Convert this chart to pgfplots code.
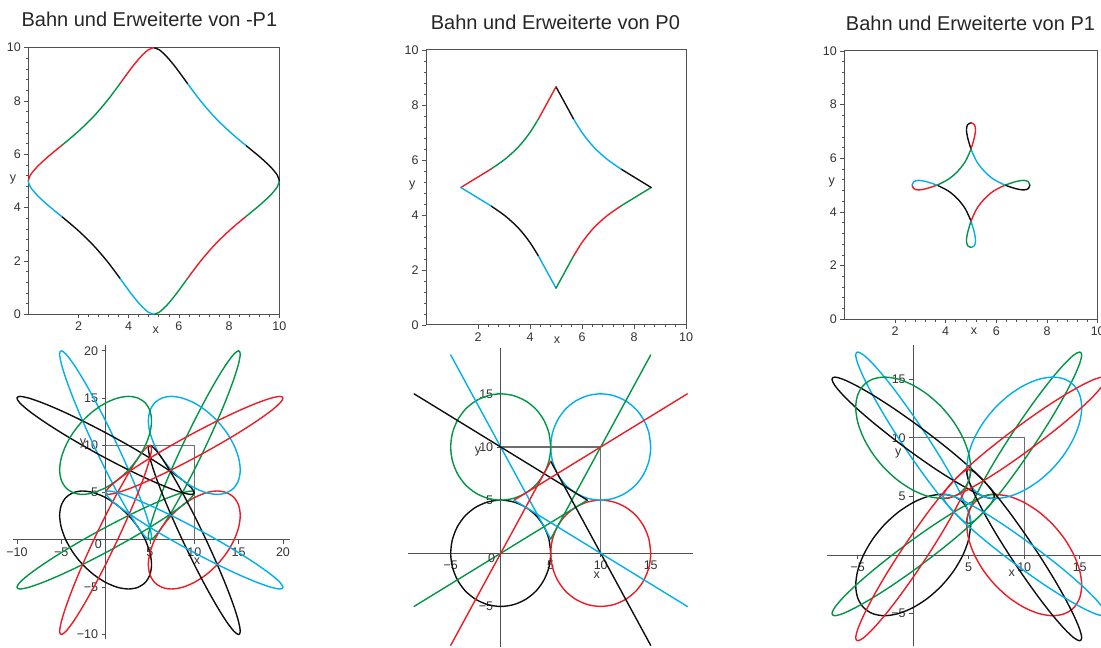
\documentclass[border=0pt]{standalone}
\usepackage{pgfplots}
\pgfplotsset{compat=1.18}
\usepackage{fontspec}
\setmainfont{Liberation Sans}
\definecolor{mred}{RGB}{237,28,36}
\definecolor{mgreen}{RGB}{0,150,70}
\definecolor{mblue}{RGB}{0,175,235}
\definecolor{mblack}{RGB}{15,15,15}
\definecolor{axgray}{RGB}{80,80,80}
\definecolor{sqgray}{RGB}{110,110,110}
\definecolor{lblgray}{RGB}{50,50,50}
\pgfplotsset{
  cK/.style={mblack,line width=1.4pt,smooth,line join=round,line cap=round},
  cR/.style={mred,line width=1.4pt,smooth,line join=round,line cap=round},
  cG/.style={mgreen,line width=1.4pt,smooth,line join=round,line cap=round},
  cB/.style={mblue,line width=1.4pt,smooth,line join=round,line cap=round},
  sq/.style={sqgray,line width=1.3pt},
  topax/.style={anchor=south west, xmin=0,xmax=10,ymin=0,ymax=10, clip=false,
    axis line style={axgray,line width=1pt},
    every tick/.style={axgray,line width=0.7pt},
    tick align=outside, xtick pos=bottom, ytick pos=left,
    xtick={2,4,6,8,10}, xticklabels={2,4,6,8,10},
    ytick={0,2,4,6,8,10}, yticklabels={0,2,4,6,8,10},
    minor tick num=4, major tick length=4pt, minor tick length=2.5pt,
    tick label style={font=\fontsize{12.5}{13}\selectfont, text=lblgray}},
  botax/.style={anchor=south west, axis lines=middle,
    axis line style={-,axgray,line width=1pt},
    every tick/.style={axgray,line width=0.7pt},
    tick align=outside, minor tick num=4, major tick length=4pt, minor tick length=2.5pt,
    tick label style={font=\fontsize{12.5}{13}\selectfont, text=lblgray}},
}
\begin{document}
\begin{tikzpicture}[x=1pt,y=1pt]
\tikzset{ttl/.style={font=\fontsize{20}{24}\selectfont, text=black!85, anchor=base},
         lbl/.style={font=\fontsize{12.5}{13}\selectfont, text=lblgray}}
\node[ttl] at (149.4,621.3) {Bahn und Erweiterte von -P1};
\node[ttl] at (555.4,618.7) {Bahn und Erweiterte von P0};
\node[ttl] at (970.5,617) {Bahn und Erweiterte von P1};

% ---------------- top left: -P1 ----------------
\begin{axis}[topax, x=25.1pt, y=26.66pt, at={(28.3pt,333.7pt)}]
\addplot[cK] coordinates {(1.34,3.66) (1.98,3.15) (2.59,2.59) (3.15,1.98) (3.66,1.34)};
\addplot[cB] coordinates {(3.66,1.34) (4.11,0.76) (4.48,0.34) (4.78,0.08) (5,0)};
\addplot[cG] coordinates {(5,0) (5.22,0.08) (5.52,0.34) (5.89,0.76) (6.34,1.34)};
\addplot[cR] coordinates {(6.34,1.34) (6.85,1.98) (7.41,2.59) (8.02,3.15) (8.66,3.66)};
\addplot[cG] coordinates {(8.66,3.66) (9.24,4.11) (9.66,4.48) (9.92,4.78) (10,5)};
\addplot[cK] coordinates {(10,5) (9.92,5.22) (9.66,5.52) (9.24,5.89) (8.66,6.34)};
\addplot[cB] coordinates {(8.66,6.34) (8.02,6.85) (7.41,7.41) (6.85,8.02) (6.34,8.66)};
\addplot[cK] coordinates {(6.34,8.66) (5.89,9.24) (5.52,9.66) (5.22,9.92) (5,10)};
\addplot[cR] coordinates {(5,10) (4.78,9.92) (4.48,9.66) (4.11,9.24) (3.66,8.66)};
\addplot[cG] coordinates {(3.66,8.66) (3.15,8.02) (2.59,7.41) (1.98,6.85) (1.34,6.34)};
\addplot[cR] coordinates {(1.34,6.34) (0.76,5.89) (0.34,5.52) (0.08,5.22) (0,5)};
\addplot[cB] coordinates {(0,5) (0.08,4.78) (0.34,4.48) (0.76,4.11) (1.34,3.66)};
\end{axis}
\node[lbl] at (13,468) {y};
\node[lbl] at (155.7,318) {x};

% ---------------- top middle: P0 ----------------
\begin{axis}[topax, x=26pt, y=27.5pt, at={(426pt,323pt)}]
\addplot[cK] coordinates {(2.5,4.33) (3.04,3.97) (3.54,3.54) (3.97,3.04) (4.33,2.5)};
\addplot[cB] coordinates {(4.33,2.5) (5,1.34)};
\addplot[cG] coordinates {(5,1.34) (5.67,2.5)};
\addplot[cR] coordinates {(5.67,2.5) (6.03,3.04) (6.46,3.54) (6.96,3.97) (7.5,4.33)};
\addplot[cG] coordinates {(7.5,4.33) (8.66,5)};
\addplot[cK] coordinates {(8.66,5) (7.5,5.67)};
\addplot[cB] coordinates {(7.5,5.67) (6.96,6.03) (6.46,6.46) (6.03,6.96) (5.67,7.5)};
\addplot[cK] coordinates {(5.67,7.5) (5,8.66)};
\addplot[cR] coordinates {(5,8.66) (4.33,7.5)};
\addplot[cG] coordinates {(4.33,7.5) (3.97,6.96) (3.54,6.46) (3.04,6.03) (2.5,5.67)};
\addplot[cR] coordinates {(2.5,5.67) (1.34,5)};
\addplot[cB] coordinates {(1.34,5) (2.5,4.33)};
\end{axis}
\node[lbl] at (412.3,462) {y};
\node[lbl] at (557,308) {x};

% ---------------- top right: P1 ----------------
\begin{axis}[topax, x=25.34pt, y=26.83pt, at={(844.3pt,328.7pt)}]
\addplot[cK] coordinates {(3.66,5) (4.11,4.78) (4.48,4.48) (4.78,4.11) (5,3.66)};
\addplot[cB] coordinates {(5,3.66) (5.13,3.24) (5.18,2.93) (5.13,2.74) (5,2.68)};
\addplot[cG] coordinates {(5,2.68) (4.87,2.74) (4.82,2.93) (4.87,3.24) (5,3.66)};
\addplot[cR] coordinates {(5,3.66) (5.22,4.11) (5.52,4.48) (5.89,4.78) (6.34,5)};
\addplot[cG] coordinates {(6.34,5) (6.76,5.13) (7.07,5.18) (7.26,5.13) (7.32,5)};
\addplot[cK] coordinates {(7.32,5) (7.26,4.87) (7.07,4.82) (6.76,4.87) (6.34,5)};
\addplot[cB] coordinates {(6.34,5) (5.89,5.22) (5.52,5.52) (5.22,5.89) (5,6.34)};
\addplot[cK] coordinates {(5,6.34) (4.87,6.76) (4.82,7.07) (4.87,7.26) (5,7.32)};
\addplot[cR] coordinates {(5,7.32) (5.13,7.26) (5.18,7.07) (5.13,6.76) (5,6.34)};
\addplot[cG] coordinates {(5,6.34) (4.78,5.89) (4.48,5.52) (4.11,5.22) (3.66,5)};
\addplot[cR] coordinates {(3.66,5) (3.24,4.87) (2.93,4.82) (2.74,4.87) (2.68,5)};
\addplot[cB] coordinates {(2.68,5) (2.74,5.13) (2.93,5.18) (3.24,5.13) (3.66,5)};
\end{axis}
\node[lbl] at (831.7,465.3) {y};
\node[lbl] at (974,316.3) {x};

% ---------------- bottom left: -P1 extended ----------------
\begin{axis}[botax, x=8.87pt, y=9.46pt, at={(13.35pt,8.67pt)},
  xmin=-10.4, xmax=20.8, ymin=-10.5, ymax=20.6,
  xtick={-10,-5,5,10,15,20}, xticklabels={−10,−5,5,10,15,20},
  ytick={-10,-5,5,10,15,20}, yticklabels={−10,−5,5,10,15,20}]
\addplot[sq] coordinates {(0,10) (10,10) (10,0)};
\addplot[cK] coordinates {(5,-1.34) (4.48,0) (3.66,1.34) (2.59,2.59) (1.34,3.66) (0,4.48) (-1.34,5) (-2.59,5.18) (-3.66,5) (-4.48,4.48) (-5,3.66) (-5.18,2.59) (-5,1.34) (-4.48,0) (-3.66,-1.34) (-2.59,-2.59) (-1.34,-3.66) (0,-4.48) (1.34,-5) (2.59,-5.18) (3.66,-5) (4.48,-4.48) (5,-3.66) (5.18,-2.59) (5,-1.34) (4.48,0)};
\addplot[cB] coordinates {(5,1.34) (5.18,0.34) (5,0) (4.48,0.34) (3.66,1.34) (2.59,2.93) (1.34,5) (0,7.41) (-1.34,10) (-2.59,12.59) (-3.66,15) (-4.48,17.07) (-5,18.66) (-5.18,19.66) (-5,20) (-4.48,19.66) (-3.66,18.66) (-2.59,17.07) (-1.34,15) (0,12.59) (1.34,10) (2.59,7.41) (3.66,5) (4.48,2.93) (5,1.34) (5.18,0.34)};
\addplot[cG] coordinates {(8.66,5) (7.41,2.93) (6.34,1.34) (5.52,0.34) (5,0) (4.82,0.34) (5,1.34) (5.52,2.93) (6.34,5) (7.41,7.41) (8.66,10) (10,12.59) (11.34,15) (12.59,17.07) (13.66,18.66) (14.48,19.66) (15,20) (15.18,19.66) (15,18.66) (14.48,17.07) (13.66,15) (12.59,12.59) (11.34,10) (10,7.41) (8.66,5) (7.41,2.93)};
\addplot[cR] coordinates {(11.34,5) (10,4.48) (8.66,3.66) (7.41,2.59) (6.34,1.34) (5.52,0) (5,-1.34) (4.82,-2.59) (5,-3.66) (5.52,-4.48) (6.34,-5) (7.41,-5.18) (8.66,-5) (10,-4.48) (11.34,-3.66) (12.59,-2.59) (13.66,-1.34) (14.48,0) (15,1.34) (15.18,2.59) (15,3.66) (14.48,4.48) (13.66,5) (12.59,5.18) (11.34,5) (10,4.48)};
\addplot[cG] coordinates {(8.66,5) (9.66,5.18) (10,5) (9.66,4.48) (8.66,3.66) (7.07,2.59) (5,1.34) (2.59,0) (0,-1.34) (-2.59,-2.59) (-5,-3.66) (-7.07,-4.48) (-8.66,-5) (-9.66,-5.18) (-10,-5) (-9.66,-4.48) (-8.66,-3.66) (-7.07,-2.59) (-5,-1.34) (-2.59,0) (0,1.34) (2.59,2.59) (5,3.66) (7.07,4.48) (8.66,5) (9.66,5.18)};
\addplot[cK] coordinates {(5,8.66) (7.07,7.41) (8.66,6.34) (9.66,5.52) (10,5) (9.66,4.82) (8.66,5) (7.07,5.52) (5,6.34) (2.59,7.41) (0,8.66) (-2.59,10) (-5,11.34) (-7.07,12.59) (-8.66,13.66) (-9.66,14.48) (-10,15) (-9.66,15.18) (-8.66,15) (-7.07,14.48) (-5,13.66) (-2.59,12.59) (0,11.34) (2.59,10) (5,8.66) (7.07,7.41)};
\addplot[cB] coordinates {(5,11.34) (5.52,10) (6.34,8.66) (7.41,7.41) (8.66,6.34) (10,5.52) (11.34,5) (12.59,4.82) (13.66,5) (14.48,5.52) (15,6.34) (15.18,7.41) (15,8.66) (14.48,10) (13.66,11.34) (12.59,12.59) (11.34,13.66) (10,14.48) (8.66,15) (7.41,15.18) (6.34,15) (5.52,14.48) (5,13.66) (4.82,12.59) (5,11.34) (5.52,10)};
\addplot[cK] coordinates {(5,8.66) (4.82,9.66) (5,10) (5.52,9.66) (6.34,8.66) (7.41,7.07) (8.66,5) (10,2.59) (11.34,0) (12.59,-2.59) (13.66,-5) (14.48,-7.07) (15,-8.66) (15.18,-9.66) (15,-10) (14.48,-9.66) (13.66,-8.66) (12.59,-7.07) (11.34,-5) (10,-2.59) (8.66,0) (7.41,2.59) (6.34,5) (5.52,7.07) (5,8.66) (4.82,9.66)};
\addplot[cR] coordinates {(1.34,5) (2.59,7.07) (3.66,8.66) (4.48,9.66) (5,10) (5.18,9.66) (5,8.66) (4.48,7.07) (3.66,5) (2.59,2.59) (1.34,0) (0,-2.59) (-1.34,-5) (-2.59,-7.07) (-3.66,-8.66) (-4.48,-9.66) (-5,-10) (-5.18,-9.66) (-5,-8.66) (-4.48,-7.07) (-3.66,-5) (-2.59,-2.59) (-1.34,0) (0,2.59) (1.34,5) (2.59,7.07)};
\addplot[cG] coordinates {(-1.34,5) (0,5.52) (1.34,6.34) (2.59,7.41) (3.66,8.66) (4.48,10) (5,11.34) (5.18,12.59) (5,13.66) (4.48,14.48) (3.66,15) (2.59,15.18) (1.34,15) (0,14.48) (-1.34,13.66) (-2.59,12.59) (-3.66,11.34) (-4.48,10) (-5,8.66) (-5.18,7.41) (-5,6.34) (-4.48,5.52) (-3.66,5) (-2.59,4.82) (-1.34,5) (0,5.52)};
\addplot[cR] coordinates {(1.34,5) (0.34,4.82) (0,5) (0.34,5.52) (1.34,6.34) (2.93,7.41) (5,8.66) (7.41,10) (10,11.34) (12.59,12.59) (15,13.66) (17.07,14.48) (18.66,15) (19.66,15.18) (20,15) (19.66,14.48) (18.66,13.66) (17.07,12.59) (15,11.34) (12.59,10) (10,8.66) (7.41,7.41) (5,6.34) (2.93,5.52) (1.34,5) (0.34,4.82)};
\addplot[cB] coordinates {(5,1.34) (2.93,2.59) (1.34,3.66) (0.34,4.48) (0,5) (0.34,5.18) (1.34,5) (2.93,4.48) (5,3.66) (7.41,2.59) (10,1.34) (12.59,0) (15,-1.34) (17.07,-2.59) (18.66,-3.66) (19.66,-4.48) (20,-5) (19.66,-5.18) (18.66,-5) (17.07,-4.48) (15,-3.66) (12.59,-2.59) (10,-1.34) (7.41,0) (5,1.34) (2.93,2.59)};
\end{axis}
\node[lbl] at (83,205) {y};
\node[lbl] at (197,87) {x};
\node[lbl] at (98.3,104) {0};

% ---------------- bottom middle: P0 extended ----------------
\begin{axis}[botax, x=10pt, y=10.63pt, at={(407.7pt,1.16pt)},
  xmin=-9.3, xmax=19.2, ymin=-8.8, ymax=19.3,
  xtick={-5,5,10,15}, xticklabels={−5,5,10,15},
  ytick={-5,5,10,15}, yticklabels={−5,5,10,15}]
\addplot[sq] coordinates {(0,10) (10,10) (10,0)};
\addplot[cK] coordinates {(5,0) (4.83,1.29) (4.33,2.5) (3.54,3.54) (2.5,4.33) (1.29,4.83) (0,5) (-1.29,4.83) (-2.5,4.33) (-3.54,3.54) (-4.33,2.5) (-4.83,1.29) (-5,0) (-4.83,-1.29) (-4.33,-2.5) (-3.54,-3.54) (-2.5,-4.33) (-1.29,-4.83) (0,-5) (1.29,-4.83) (2.5,-4.33) (3.54,-3.54) (4.33,-2.5) (4.83,-1.29) (5,0) (4.83,1.29)};
\addplot[cR] coordinates {(15,0) (14.83,1.29) (14.33,2.5) (13.54,3.54) (12.5,4.33) (11.29,4.83) (10,5) (8.71,4.83) (7.5,4.33) (6.46,3.54) (5.67,2.5) (5.17,1.29) (5,0) (5.17,-1.29) (5.67,-2.5) (6.46,-3.54) (7.5,-4.33) (8.71,-4.83) (10,-5) (11.29,-4.83) (12.5,-4.33) (13.54,-3.54) (14.33,-2.5) (14.83,-1.29) (15,0) (14.83,1.29)};
\addplot[cB] coordinates {(15,10) (14.83,11.29) (14.33,12.5) (13.54,13.54) (12.5,14.33) (11.29,14.83) (10,15) (8.71,14.83) (7.5,14.33) (6.46,13.54) (5.67,12.5) (5.17,11.29) (5,10) (5.17,8.71) (5.67,7.5) (6.46,6.46) (7.5,5.67) (8.71,5.17) (10,5) (11.29,5.17) (12.5,5.67) (13.54,6.46) (14.33,7.5) (14.83,8.71) (15,10) (14.83,11.29)};
\addplot[cG] coordinates {(5,10) (4.83,11.29) (4.33,12.5) (3.54,13.54) (2.5,14.33) (1.29,14.83) (0,15) (-1.29,14.83) (-2.5,14.33) (-3.54,13.54) (-4.33,12.5) (-4.83,11.29) (-5,10) (-4.83,8.71) (-4.33,7.5) (-3.54,6.46) (-2.5,5.67) (-1.29,5.17) (0,5) (1.29,5.17) (2.5,5.67) (3.54,6.46) (4.33,7.5) (4.83,8.71) (5,10) (4.83,11.29)};
\addplot[cB] coordinates {(-5,18.66) (5,1.34)};
\addplot[cG] coordinates {(5,1.34) (15,18.66)};
\addplot[cG] coordinates {(-8.66,-5) (8.66,5)};
\addplot[cK] coordinates {(8.66,5) (-8.66,15)};
\addplot[cK] coordinates {(15,-8.66) (5,8.66)};
\addplot[cR] coordinates {(5,8.66) (-5,-8.66)};
\addplot[cR] coordinates {(18.66,15) (1.34,5)};
\addplot[cB] coordinates {(1.34,5) (18.66,-5)};
\end{axis}
\node[lbl] at (478,196.3) {y};
\node[lbl] at (596.7,73.3) {x};
\node[lbl] at (491.7,89.7) {0};

% ---------------- bottom right: P1 extended ----------------
\begin{axis}[botax, x=11.1pt, y=11.72pt, at={(826.62pt,1.58pt)},
  xmin=-7.8, xmax=17.8, ymin=-7.8, ymax=17.9,
  xtick={-5,5,10,15}, xticklabels={−5,5,10,15},
  ytick={-5,5,10,15}, yticklabels={−5,5,10,15}]
\addplot[sq] coordinates {(0,10) (10,10) (10,0)};
\addplot[cK] coordinates {(5,1.34) (5.18,2.59) (5,3.66) (4.48,4.48) (3.66,5) (2.59,5.18) (1.34,5) (0,4.48) (-1.34,3.66) (-2.59,2.59) (-3.66,1.34) (-4.48,0) (-5,-1.34) (-5.18,-2.59) (-5,-3.66) (-4.48,-4.48) (-3.66,-5) (-2.59,-5.18) (-1.34,-5) (0,-4.48) (1.34,-3.66) (2.59,-2.59) (3.66,-1.34) (4.48,0) (5,1.34) (5.18,2.59)};
\addplot[cB] coordinates {(3.66,3.66) (4.48,2.93) (5,2.68) (5.18,2.93) (5,3.66) (4.48,4.82) (3.66,6.34) (2.59,8.11) (1.34,10) (0,11.89) (-1.34,13.66) (-2.59,15.18) (-3.66,16.34) (-4.48,17.07) (-5,17.32) (-5.18,17.07) (-5,16.34) (-4.48,15.18) (-3.66,13.66) (-2.59,11.89) (-1.34,10) (0,8.11) (1.34,6.34) (2.59,4.82) (3.66,3.66) (4.48,2.93)};
\addplot[cG] coordinates {(6.34,6.34) (5.52,4.82) (5,3.66) (4.82,2.93) (5,2.68) (5.52,2.93) (6.34,3.66) (7.41,4.82) (8.66,6.34) (10,8.11) (11.34,10) (12.59,11.89) (13.66,13.66) (14.48,15.18) (15,16.34) (15.18,17.07) (15,17.32) (14.48,17.07) (13.66,16.34) (12.59,15.18) (11.34,13.66) (10,11.89) (8.66,10) (7.41,8.11) (6.34,6.34) (5.52,4.82)};
\addplot[cR] coordinates {(8.66,5) (7.41,5.18) (6.34,5) (5.52,4.48) (5,3.66) (4.82,2.59) (5,1.34) (5.52,0) (6.34,-1.34) (7.41,-2.59) (8.66,-3.66) (10,-4.48) (11.34,-5) (12.59,-5.18) (13.66,-5) (14.48,-4.48) (15,-3.66) (15.18,-2.59) (15,-1.34) (14.48,0) (13.66,1.34) (12.59,2.59) (11.34,3.66) (10,4.48) (8.66,5) (7.41,5.18)};
\addplot[cG] coordinates {(6.34,3.66) (7.07,4.48) (7.32,5) (7.07,5.18) (6.34,5) (5.18,4.48) (3.66,3.66) (1.89,2.59) (0,1.34) (-1.89,0) (-3.66,-1.34) (-5.18,-2.59) (-6.34,-3.66) (-7.07,-4.48) (-7.32,-5) (-7.07,-5.18) (-6.34,-5) (-5.18,-4.48) (-3.66,-3.66) (-1.89,-2.59) (0,-1.34) (1.89,0) (3.66,1.34) (5.18,2.59) (6.34,3.66) (7.07,4.48)};
\addplot[cK] coordinates {(3.66,6.34) (5.18,5.52) (6.34,5) (7.07,4.82) (7.32,5) (7.07,5.52) (6.34,6.34) (5.18,7.41) (3.66,8.66) (1.89,10) (0,11.34) (-1.89,12.59) (-3.66,13.66) (-5.18,14.48) (-6.34,15) (-7.07,15.18) (-7.32,15) (-7.07,14.48) (-6.34,13.66) (-5.18,12.59) (-3.66,11.34) (-1.89,10) (0,8.66) (1.89,7.41) (3.66,6.34) (5.18,5.52)};
\addplot[cB] coordinates {(5,8.66) (4.82,7.41) (5,6.34) (5.52,5.52) (6.34,5) (7.41,4.82) (8.66,5) (10,5.52) (11.34,6.34) (12.59,7.41) (13.66,8.66) (14.48,10) (15,11.34) (15.18,12.59) (15,13.66) (14.48,14.48) (13.66,15) (12.59,15.18) (11.34,15) (10,14.48) (8.66,13.66) (7.41,12.59) (6.34,11.34) (5.52,10) (5,8.66) (4.82,7.41)};
\addplot[cK] coordinates {(6.34,6.34) (5.52,7.07) (5,7.32) (4.82,7.07) (5,6.34) (5.52,5.18) (6.34,3.66) (7.41,1.89) (8.66,0) (10,-1.89) (11.34,-3.66) (12.59,-5.18) (13.66,-6.34) (14.48,-7.07) (15,-7.32) (15.18,-7.07) (15,-6.34) (14.48,-5.18) (13.66,-3.66) (12.59,-1.89) (11.34,0) (10,1.89) (8.66,3.66) (7.41,5.18) (6.34,6.34) (5.52,7.07)};
\addplot[cR] coordinates {(3.66,3.66) (4.48,5.18) (5,6.34) (5.18,7.07) (5,7.32) (4.48,7.07) (3.66,6.34) (2.59,5.18) (1.34,3.66) (0,1.89) (-1.34,0) (-2.59,-1.89) (-3.66,-3.66) (-4.48,-5.18) (-5,-6.34) (-5.18,-7.07) (-5,-7.32) (-4.48,-7.07) (-3.66,-6.34) (-2.59,-5.18) (-1.34,-3.66) (0,-1.89) (1.34,0) (2.59,1.89) (3.66,3.66) (4.48,5.18)};
\addplot[cG] coordinates {(1.34,5) (2.59,4.82) (3.66,5) (4.48,5.52) (5,6.34) (5.18,7.41) (5,8.66) (4.48,10) (3.66,11.34) (2.59,12.59) (1.34,13.66) (0,14.48) (-1.34,15) (-2.59,15.18) (-3.66,15) (-4.48,14.48) (-5,13.66) (-5.18,12.59) (-5,11.34) (-4.48,10) (-3.66,8.66) (-2.59,7.41) (-1.34,6.34) (0,5.52) (1.34,5) (2.59,4.82)};
\addplot[cR] coordinates {(3.66,6.34) (2.93,5.52) (2.68,5) (2.93,4.82) (3.66,5) (4.82,5.52) (6.34,6.34) (8.11,7.41) (10,8.66) (11.89,10) (13.66,11.34) (15.18,12.59) (16.34,13.66) (17.07,14.48) (17.32,15) (17.07,15.18) (16.34,15) (15.18,14.48) (13.66,13.66) (11.89,12.59) (10,11.34) (8.11,10) (6.34,8.66) (4.82,7.41) (3.66,6.34) (2.93,5.52)};
\addplot[cB] coordinates {(6.34,3.66) (4.82,4.48) (3.66,5) (2.93,5.18) (2.68,5) (2.93,4.48) (3.66,3.66) (4.82,2.59) (6.34,1.34) (8.11,0) (10,-1.34) (11.89,-2.59) (13.66,-3.66) (15.18,-4.48) (16.34,-5) (17.07,-5.18) (17.32,-5) (17.07,-4.48) (16.34,-3.66) (15.18,-2.59) (13.66,-1.34) (11.89,0) (10,1.34) (8.11,2.59) (6.34,3.66) (4.82,4.48)};
\end{axis}
\node[lbl] at (898.3,194.3) {y};
\node[lbl] at (1011.7,75) {x};
\pgfresetboundingbox
\useasboundingbox (0,0) rectangle (1101,648);
\end{tikzpicture}
\end{document}
